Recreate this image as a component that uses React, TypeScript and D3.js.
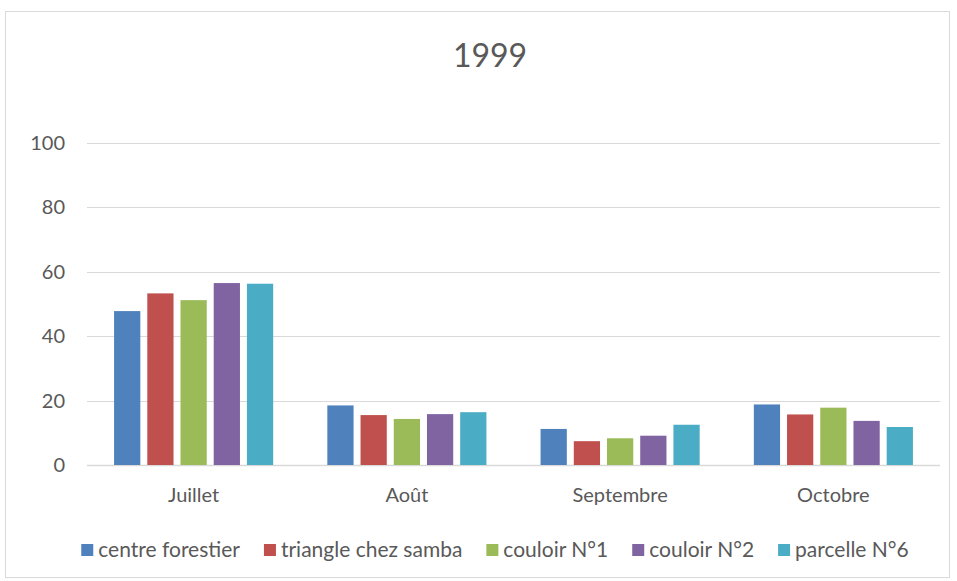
import React, { useRef, useEffect } from "react";
import * as d3 from "d3";

const months = ["Juillet", "Août", "Septembre", "Octobre"];
const seriesNames = [
  "centre forestier",
  "triangle chez samba",
  "couloir N°1",
  "couloir N°2",
  "parcelle N°6",
];
const centreForestier = [47.8, 18.5, 11.2, 18.8];
const triangleChezSamba = [53.3, 15.5, 7.4, 15.7];
const couloirN1 = [51.2, 14.3, 8.3, 17.8];
const couloirN2 = [56.5, 15.8, 9.1, 13.7];
const parcelleN6 = [56.3, 16.4, 12.5, 11.8];
const yTicks = [0, 20, 40, 60, 80, 100];

const colors = ["#4F81BD", "#C0504D", "#9BBB59", "#8064A2", "#4BACC6"];
const FONT = "Lato, 'Liberation Sans', sans-serif";
const TEXT = "#595959";
const GRID = "#D9D9D9";

const App: React.FC = () => {
  const svgRef = useRef<SVGSVGElement>(null);

  useEffect(() => {
    document.body.style.margin = "0";
    if (!svgRef.current) return;
    const svg = d3.select(svgRef.current);
    svg.selectAll("*").remove();

    const values = [centreForestier, triangleChezSamba, couloirN1, couloirN2, parcelleN6];

    // chart frame
    svg
      .append("rect")
      .attr("x", 5.5)
      .attr("y", 11.5)
      .attr("width", 944)
      .attr("height", 566)
      .attr("fill", "#fff")
      .attr("stroke", GRID)
      .attr("stroke-width", 1);

    svg
      .append("text")
      .attr("x", 490)
      .attr("y", 67)
      .attr("text-anchor", "middle")
      .attr("font-family", FONT)
      .attr("font-size", 32)
      .attr("fill", TEXT)
      .text("1999");

    const x0 = d3.scaleBand<string>().domain(months).range([87, 940]);
    const x1 = d3
      .scaleBand<number>()
      .domain(d3.range(seriesNames.length))
      .range([0, x0.bandwidth()])
      .paddingInner(0.21)
      .paddingOuter(0.815);
    const y = d3.scaleLinear().domain([0, 100]).range([465, 143]);

    // gridlines + y labels
    const yAxis = svg.append("g");
    yTicks.forEach((t) => {
      yAxis
        .append("line")
        .attr("x1", 87)
        .attr("x2", 940)
        .attr("y1", Math.round(y(t)) + 0.5)
        .attr("y2", Math.round(y(t)) + 0.5)
        .attr("stroke", GRID)
        .attr("stroke-width", t === 0 ? 1.5 : 1);
      yAxis
        .append("text")
        .attr("x", 65)
        .attr("y", y(t))
        .attr("dy", "0.35em")
        .attr("text-anchor", "end")
        .attr("font-family", FONT)
        .attr("font-size", 20)
        .attr("fill", TEXT)
        .text(String(t));
    });

    // bars
    months.forEach((m, mi) => {
      const g = svg.append("g").attr("transform", `translate(${x0(m)},0)`);
      values.forEach((vals, si) => {
        g.append("rect")
          .attr("x", x1(si)!)
          .attr("y", y(vals[mi]))
          .attr("width", x1.bandwidth())
          .attr("height", y(0) - y(vals[mi]))
          .attr("fill", colors[si]);
      });
      svg
        .append("text")
        .attr("x", x0(m)! + x0.bandwidth() / 2)
        .attr("y", 495)
        .attr("dy", "0.35em")
        .attr("text-anchor", "middle")
        .attr("font-family", FONT)
        .attr("font-size", 20)
        .attr("fill", TEXT)
        .text(m);
    });

    // legend
    const legend = svg.append("g");
    const items = seriesNames.map((name, i) => {
      const it = legend.append("g");
      it.append("rect")
        .attr("x", 0)
        .attr("y", -6)
        .attr("width", 12)
        .attr("height", 12)
        .attr("fill", colors[i]);
      const t = it
        .append("text")
        .attr("x", 17)
        .attr("y", 0)
        .attr("dy", "0.35em")
        .attr("font-family", FONT)
        .attr("font-size", 21)
        .attr("fill", TEXT)
        .text(name);
      const w = 17 + (t.node() as SVGTextElement).getComputedTextLength();
      return { it, w };
    });
    const gap = 24;
    const total = d3.sum(items, (d) => d.w) + gap * (items.length - 1);
    let cx = 495 - total / 2;
    items.forEach(({ it, w }) => {
      it.attr("transform", `translate(${cx},550)`);
      cx += w + gap;
    });
  }, []);

  return <svg ref={svgRef} width={957} height={581} style={{ display: "block" }} />;
};

export default App;
